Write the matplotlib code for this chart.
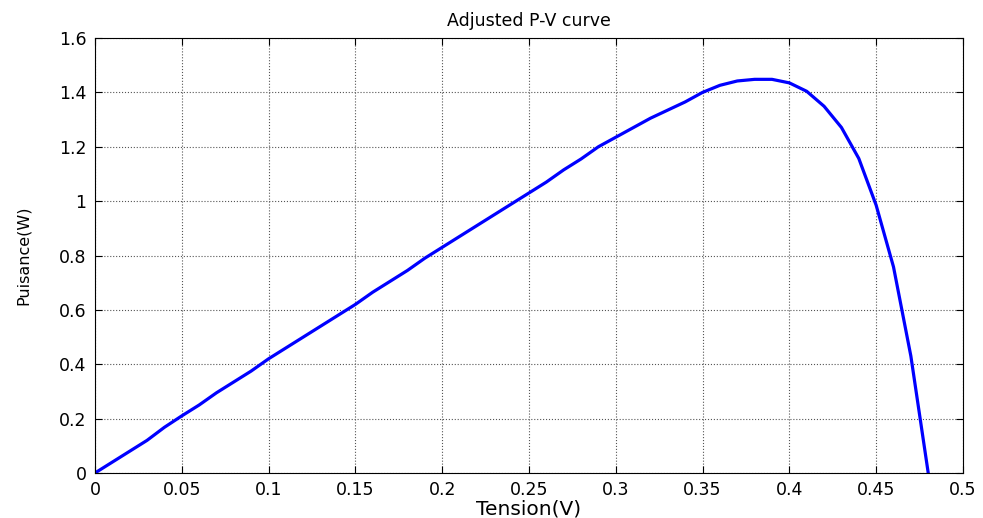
import matplotlib
matplotlib.use("Agg")
import matplotlib.pyplot as plt
import numpy as np

# Tension (V) and power (W)
tension = [0.00, 0.01, 0.02, 0.03, 0.04, 0.05, 0.06, 0.07, 0.08, 0.09,
           0.10, 0.11, 0.12, 0.13, 0.14, 0.15, 0.16, 0.17, 0.18, 0.19,
           0.20, 0.21, 0.22, 0.23, 0.24, 0.25, 0.26, 0.27, 0.28, 0.29,
           0.30, 0.31, 0.32, 0.33, 0.34, 0.35, 0.36, 0.37, 0.38, 0.39,
           0.40, 0.41, 0.42, 0.43, 0.44, 0.45, 0.46, 0.47, 0.48]
puissance = [0.000, 0.040, 0.080, 0.120, 0.168, 0.210, 0.250, 0.295, 0.335, 0.375,
             0.420, 0.460, 0.500, 0.540, 0.580, 0.620, 0.665, 0.705, 0.745, 0.790,
             0.830, 0.870, 0.910, 0.950, 0.990, 1.030, 1.070, 1.115, 1.155, 1.200,
             1.235, 1.270, 1.305, 1.335, 1.365, 1.400, 1.426, 1.442, 1.448, 1.448,
             1.435, 1.404, 1.349, 1.271, 1.157, 0.985, 0.758, 0.430, 0.000]

xticks = np.arange(0, 0.501, 0.05)
xticklabels = ["0", "0.05", "0.1", "0.15", "0.2", "0.25", "0.3", "0.35", "0.4", "0.45", "0.5"]
yticks = np.arange(0, 1.601, 0.2)
yticklabels = ["0", "0.2", "0.4", "0.6", "0.8", "1", "1.2", "1.4", "1.6"]

plt.rcParams.update({"font.family": ["DejaVu Sans"], "font.size": 12.5})

fig = plt.figure(figsize=(9.83, 5.18), dpi=100)
ax = fig.add_axes([0.0966, 0.0869, 0.883, 0.8397])
ax.plot(tension, puissance, color="#0000ff", linewidth=2.3)
ax.set_xlim(0, 0.5)
ax.set_ylim(0, 1.6)
ax.set_xticks(xticks, xticklabels)
ax.set_yticks(yticks, yticklabels)
ax.grid(True, color="#555555", linestyle=":", linewidth=0.8)
ax.tick_params(direction="in", top=True, right=True, length=5, width=0.8)
ax.tick_params(axis="x", pad=6)
ax.tick_params(axis="y", pad=6)
for s in ax.spines.values():
    s.set_linewidth(0.8)
ax.set_title("Adjusted P-V curve", fontsize=12.5, pad=9)
ax.set_xlabel("Tension(V)", fontsize=14.5, labelpad=0)
ax.set_ylabel("Puisance(W)", fontsize=11.5, labelpad=20)

fig.savefig("out.png", dpi=100)
